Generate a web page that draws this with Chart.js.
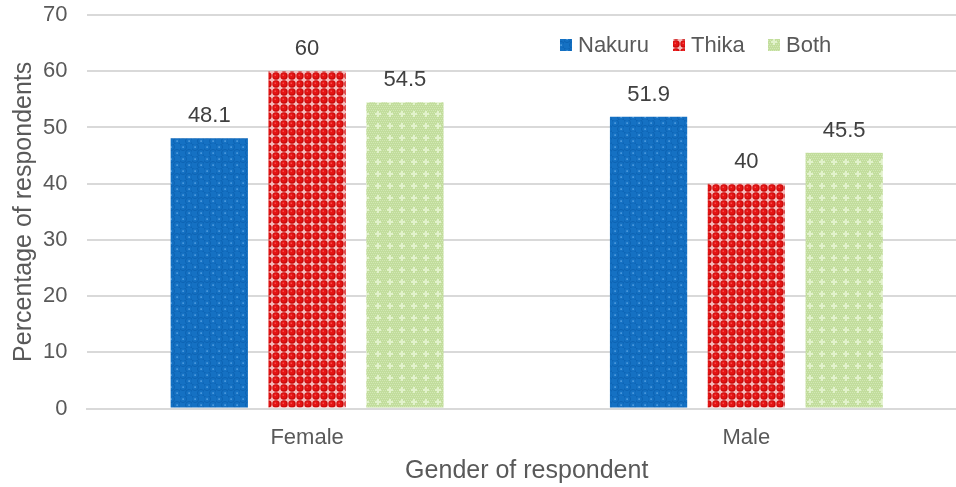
<!DOCTYPE html>
<html>
<head>
<meta charset="utf-8">
<script src="https://cdn.jsdelivr.net/npm/chart.js@4/dist/chart.umd.min.js"></script>
<style>
  html, body { margin: 0; padding: 0; background: #fff; overflow: hidden; }
  #wrap { width: 966px; height: 487px; }
</style>
</head>
<body>
<div id="wrap"><canvas id="genderChart"></canvas></div>
<script>
const categories = ['Female', 'Male'];
const seriesNames = ['Nakuru', 'Thika', 'Both'];
const nakuru = [48.1, 51.9];
const thika = [60, 40];
const both = [54.5, 45.5];
const yTicks = [0, 10, 20, 30, 40, 50, 60, 70];

const FONT = "'Liberation Sans', Arial, sans-serif";

// small tiled fills to mimic the Excel pattern fills
function makePattern(size, draw) {
    const c = document.createElement('canvas');
    c.width = size;
    c.height = size;
    const g = c.getContext('2d');
    draw(g, size);
    return g.createPattern(c, 'repeat');
}

const ctxMain = document.getElementById('genderChart').getContext('2d');

const bluePattern = makePattern(12, (g, s) => {
    g.fillStyle = '#1571c3';
    g.fillRect(0, 0, s, s);
    g.strokeStyle = '#0c62b2';
    g.lineWidth = 1;
    [[3, 3], [9, 9]].forEach(p => {
        g.beginPath();
        g.arc(p[0], p[1], 3.5, 0, Math.PI * 2);
        g.stroke();
    });
    g.fillStyle = '#7fc0f5';
    g.fillRect(2.5, 2.5, 1.2, 1.2);
    g.fillRect(8.5, 8.5, 1.2, 1.2);
});

const redPattern = makePattern(8, (g, s) => {
    g.fillStyle = '#f6bcbc';
    g.fillRect(0, 0, s, s);
    g.fillStyle = '#c80808';
    g.beginPath();
    g.arc(4, 4, 3.7, 0, Math.PI * 2);
    g.fill();
    g.fillStyle = '#e41414';
    g.beginPath();
    g.arc(3.7, 3.7, 2.7, 0, Math.PI * 2);
    g.fill();
    g.fillStyle = '#ff6a6a';
    g.fillRect(2.6, 2.6, 1.2, 1.2);
});

const greenPattern = makePattern(12, (g, s) => {
    g.fillStyle = '#c2dd9c';
    g.fillRect(0, 0, s, s);
    g.fillStyle = '#d2e8b5';
    for (let y = 0; y < s; y += 2) {
        for (let x = (y / 2) % 2; x < s; x += 2) {
            g.fillRect(x, y, 1, 1);
        }
    }
    g.fillStyle = '#e2f2cc';
    g.fillRect(5, 3, 2, 6);
    g.fillRect(3, 5, 6, 2);
});

const fills = [bluePattern, redPattern, greenPattern];

// value labels above each bar
const barLabels = {
    id: 'barLabels',
    afterDatasetsDraw(chart) {
        const ctx = chart.ctx;
        ctx.save();
        ctx.font = '22px ' + FONT;
        ctx.fillStyle = '#404040';
        ctx.textAlign = 'center';
        ctx.textBaseline = 'bottom';
        chart.data.datasets.forEach((ds, i) => {
            chart.getDatasetMeta(i).data.forEach((bar, j) => {
                ctx.fillText(String(ds.data[j]), bar.x, bar.y - 11);
            });
        });
        ctx.restore();
    }
};

// legend drawn inside the plot, upper right
const insideLegend = {
    id: 'insideLegend',
    afterDraw(chart) {
        const ctx = chart.ctx;
        const xs = [560, 673, 768];
        const y = 45;
        ctx.save();
        ctx.font = '22px ' + FONT;
        ctx.textBaseline = 'middle';
        ctx.textAlign = 'left';
        chart.data.datasets.forEach((ds, i) => {
            ctx.fillStyle = ds.backgroundColor;
            ctx.fillRect(xs[i], y - 6, 12, 12);
            ctx.fillStyle = '#595959';
            ctx.fillText(ds.label, xs[i] + 18, y + 1);
        });
        ctx.restore();
    }
};

new Chart(ctxMain, {
    type: 'bar',
    data: {
        labels: categories,
        datasets: [
            { label: seriesNames[0], data: nakuru, backgroundColor: fills[0] },
            { label: seriesNames[1], data: thika, backgroundColor: fills[1] },
            { label: seriesNames[2], data: both, backgroundColor: fills[2] }
        ]
    },
    options: {
        responsive: true,
        maintainAspectRatio: false,
        animation: false,
        devicePixelRatio: 1,
        layout: { padding: { top: 3, right: 0, left: 9, bottom: 1 } },
        datasets: {
            bar: { categoryPercentage: 0.668, barPercentage: 0.79 }
        },
        scales: {
            x: {
                grid: { display: false, drawTicks: false },
                border: { display: true, color: '#d9d9d9', width: 2 },
                ticks: { color: '#595959', font: { family: FONT, size: 22 }, padding: 16 },
                title: {
                    display: true,
                    text: 'Gender of respondent',
                    color: '#595959',
                    font: { family: FONT, size: 25 },
                    padding: { top: -11, bottom: 0 }
                }
            },
            y: {
                min: 0,
                max: 70,
                afterBuildTicks: axis => { axis.ticks = yTicks.map(v => ({ value: v })); },
                // tick padding would otherwise push the plot top down too
                afterFit: axis => { axis.paddingTop = 15; },
                grid: { color: '#d9d9d9', lineWidth: 2, drawTicks: false },
                border: { display: false },
                ticks: { color: '#595959', font: { family: FONT, size: 22 }, padding: 20 },
                title: {
                    display: true,
                    text: 'Percentage of respondents',
                    color: '#595959',
                    font: { family: FONT, size: 25 },
                    padding: { top: 0, bottom: -16 }
                }
            }
        },
        plugins: {
            legend: { display: false },
            tooltip: { enabled: false }
        }
    },
    plugins: [barLabels, insideLegend]
});
</script>
</body>
</html>
